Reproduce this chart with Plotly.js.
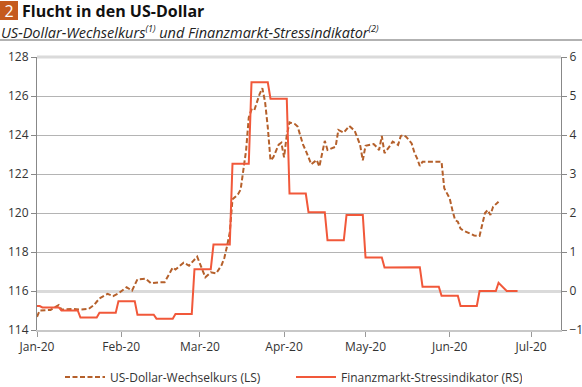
<!DOCTYPE html>
<html>
<head>
<meta charset="utf-8">
<script src="https://cdn.plot.ly/plotly-3.0.1.min.js"></script>
<style>
  html, body { margin: 0; padding: 0; background: #fff; }
  #chart { width: 582px; height: 387px; }
</style>
</head>
<body>
<div id="chart"></div>
<script>
// US-Dollar-Wechselkurs (left axis)
const usdDates = [
  '2020-01-01','2020-01-02','2020-01-06','2020-01-07','2020-01-09','2020-01-10','2020-01-14','2020-01-17',
  '2020-01-20','2020-01-22','2020-01-24','2020-01-27','2020-01-29','2020-01-31','2020-02-03','2020-02-05',
  '2020-02-07','2020-02-10','2020-02-12','2020-02-15','2020-02-17','2020-02-20','2020-02-21','2020-02-24',
  '2020-02-26','2020-02-29','2020-03-01','2020-03-03','2020-03-05','2020-03-07','2020-03-09','2020-03-10',
  '2020-03-11','2020-03-12','2020-03-13','2020-03-15','2020-03-16','2020-03-17','2020-03-18','2020-03-19',
  '2020-03-20','2020-03-21','2020-03-23','2020-03-24','2020-03-25','2020-03-26','2020-03-27','2020-03-28',
  '2020-03-30','2020-03-31','2020-04-01','2020-04-02','2020-04-03','2020-04-05','2020-04-06','2020-04-08',
  '2020-04-09','2020-04-11','2020-04-12','2020-04-13','2020-04-14','2020-04-16','2020-04-17','2020-04-19',
  '2020-04-20','2020-04-21','2020-04-23','2020-04-25','2020-04-27','2020-04-29','2020-04-30','2020-05-01',
  '2020-05-04','2020-05-05','2020-05-06','2020-05-07','2020-05-08','2020-05-10','2020-05-11','2020-05-13',
  '2020-05-14','2020-05-15','2020-05-16','2020-05-18','2020-05-19','2020-05-20','2020-05-21','2020-05-22',
  '2020-05-29','2020-05-30','2020-06-01','2020-06-02','2020-06-03','2020-06-04','2020-06-05','2020-06-06',
  '2020-06-08','2020-06-10','2020-06-12','2020-06-14','2020-06-15','2020-06-16','2020-06-17','2020-06-19'
];
const usdValues = [
  114.68,115.0,115.03,115.1,115.28,115.05,115.08,115.05,
  115.08,115.28,115.62,115.85,115.74,115.88,116.19,116.02,
  116.6,116.63,116.39,116.45,116.45,117.2,117.1,117.45,
  117.3,117.76,117.42,116.7,116.96,116.9,117.33,117.7,
  118.3,119.0,120.7,120.95,121.2,122.2,123.2,124.9,
  125.3,125.25,126.1,126.4,125.7,124.4,122.7,122.85,
  123.5,123.6,122.85,124.0,124.65,124.56,124.43,123.5,
  123.2,122.5,122.6,122.72,122.38,123.7,123.23,123.35,
  123.4,124.26,124.12,124.46,124.22,123.5,122.7,123.45,
  123.54,123.4,123.23,123.95,123.07,123.44,123.66,123.49,
  123.95,124.0,123.9,123.57,123.1,122.8,122.41,122.63,
  122.63,121.27,120.75,120.15,119.64,119.55,119.2,119.1,
  118.99,118.85,118.82,120.0,120.15,119.9,120.32,120.58
];

// Finanzmarkt-Stressindikator (right axis), weekly readings
const stressDates = [
  '2020-01-01','2020-01-03','2020-01-10','2020-01-17','2020-01-24','2020-01-31','2020-02-07','2020-02-14',
  '2020-02-21','2020-02-28','2020-03-06','2020-03-13','2020-03-20','2020-03-27','2020-04-03','2020-04-10',
  '2020-04-17','2020-04-24','2020-05-01','2020-05-08','2020-05-15','2020-05-22','2020-05-29','2020-06-05',
  '2020-06-12','2020-06-19','2020-06-22'
];
const stressValues = [
  -0.385,-0.42,-0.50,-0.68,-0.56,-0.26,-0.61,-0.71,
  -0.59,0.56,1.19,3.26,5.35,4.93,2.50,2.02,
  1.30,1.95,0.86,0.60,0.61,0.11,-0.12,-0.385,
  0.0,0.21,0.0
];
const stressEnd = '2020-06-26';

const legendNames = ['US-Dollar-Wechselkurs (LS)', 'Finanzmarkt-Stressindikator (RS)'];

// forward-fill weekly readings onto business days
function toDaily(dates, values, end) {
  const xs = [], ys = [];
  const start = new Date(dates[0] + 'T00:00:00Z');
  const stop = new Date(end + 'T00:00:00Z');
  let idx = 0;
  for (let d = new Date(start); d <= stop; d.setUTCDate(d.getUTCDate() + 1)) {
    const iso = d.toISOString().slice(0, 10);
    while (idx + 1 < dates.length && dates[idx + 1] <= iso) idx++;
    const wd = d.getUTCDay();
    if ((wd === 0 || wd === 6) && iso !== dates[0]) continue;
    xs.push(iso); ys.push(values[idx]);
  }
  return {xs, ys};
}
const stressDaily = toDaily(stressDates, stressValues, stressEnd);

const FONT = 'Open Sans, Noto Sans, sans-serif';
const L = 37, R = 560.6, T = 57, B = 330;
const px = x => (x - L) / (R - L);
const py = y => (B - y) / (B - T);

const traces = [
  {
    x: usdDates, y: usdValues, name: legendNames[0], type: 'scatter', mode: 'lines',
    line: {color: '#b5602b', width: 2, dash: '5px,2.5px'}, yaxis: 'y'
  },
  {
    x: stressDaily.xs, y: stressDaily.ys, name: legendNames[1], type: 'scatter', mode: 'lines',
    line: {color: '#f1583a', width: 2}, yaxis: 'y2'
  }
];

const layout = {
  width: 582, height: 387,
  margin: {l: L, r: 582 - R, t: T, b: 387 - B, pad: 0},
  paper_bgcolor: '#fff', plot_bgcolor: '#fff',
  font: {family: FONT, size: 12, color: '#333'},
  showlegend: true,
  legend: {
    orientation: 'h', xref: 'container', yref: 'container', x: 0.5, xanchor: 'center',
    y: (387 - 377) / 387, yanchor: 'middle', font: {family: FONT, size: 12, color: '#333'},
    entrywidth: 176, itemwidth: 40, traceorder: 'normal', bgcolor: 'rgba(0,0,0,0)'
  },
  xaxis: {
    type: 'date', range: ['2020-01-01', '2020-07-12'], tick0: '2020-01-01', dtick: 'M1',
    tickformat: '%b-%y', ticks: 'outside', ticklen: 5, tickcolor: '#999', showgrid: false,
    showline: true, linecolor: '#c8c8c8', linewidth: 2, zeroline: false,
    tickfont: {family: FONT, size: 12, color: '#333'}
  },
  yaxis: {
    range: [114, 128], dtick: 2, tick0: 114, gridcolor: '#b4b4b4', gridwidth: 1,
    showline: true, linecolor: '#888', linewidth: 1, ticks: 'outside', ticklen: 5, tickcolor: '#888',
    zeroline: false, tickfont: {family: FONT, size: 12, color: '#333'}
  },
  yaxis2: {
    range: [-1, 6], dtick: 1, tick0: -1, overlaying: 'y', side: 'right', showgrid: false,
    zeroline: true, zerolinecolor: '#dadada', zerolinewidth: 3,
    showline: true, linecolor: '#888', linewidth: 1, ticks: 'outside', ticklen: 5, tickcolor: '#888',
    tickfont: {family: FONT, size: 12, color: '#333'}
  },
  shapes: [
    {type: 'line', xref: 'paper', yref: 'paper', x0: 0, x1: 1, y0: 1, y1: 1,
     line: {color: '#dadada', width: 3}, layer: 'between'},
    {type: 'line', xref: 'paper', yref: 'paper', x0: px(0), x1: px(582), y0: py(40), y1: py(40),
     line: {color: '#999', width: 1.5}}
  ],
  annotations: [
    {xref: 'paper', yref: 'paper', x: px(0), y: py(1), xanchor: 'left', yanchor: 'top',
     width: 18, height: 19, bgcolor: '#c55a1e', borderwidth: 0, borderpad: 0, showarrow: false,
     text: '2', font: {family: FONT, size: 16, color: '#fff'}},
    {xref: 'paper', yref: 'paper', x: px(22), y: py(11), xanchor: 'left', yanchor: 'middle',
     borderwidth: 0, borderpad: 0, showarrow: false,
     text: '<b>Flucht in den US-Dollar</b>', font: {family: FONT, size: 16, color: '#111'}},
    {xref: 'paper', yref: 'paper', x: px(1), y: py(32.3), xanchor: 'left', yanchor: 'middle',
     borderwidth: 0, borderpad: 0, showarrow: false,
     text: '<i>US-Dollar-Wechselkurs<sup><span style="font-size:9px">(1)</span></sup> und Finanzmarkt-Stressindikator<sup><span style="font-size:9px">(2)</span></sup></i>',
     font: {family: FONT, size: 14.5, color: '#222'}}
  ]
};

Plotly.newPlot('chart', traces, layout, {displayModeBar: false, staticPlot: true});
</script>
</body>
</html>
